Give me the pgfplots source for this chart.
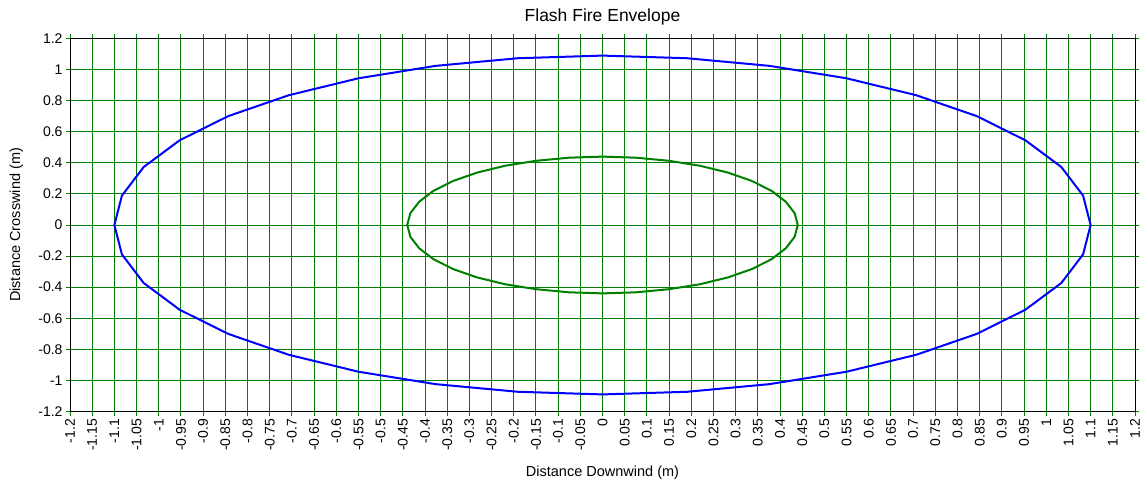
\documentclass[border=0pt]{standalone}
\usepackage{pgfplots}
\pgfplotsset{compat=1.18}
\usepackage{fontspec}
\setmainfont{Liberation Sans}
\definecolor{gridgreen}{RGB}{0,128,0}
\definecolor{lineblue}{RGB}{0,0,255}
\definecolor{ellgreen}{RGB}{0,128,0}
\begin{document}
\begin{tikzpicture}
\begin{axis}[
    name=ax,
    width=1065pt, height=373pt, scale only axis,
    xmin=-1.2, xmax=1.2, ymin=-1.2, ymax=1.2,
    xtick={-1.2,-1.15,-1.1,-1.05,-1,-0.95,-0.9,-0.85,-0.8,-0.75,-0.7,-0.65,-0.6,-0.55,-0.5,-0.45,-0.4,-0.35,-0.3,-0.25,-0.2,-0.15,-0.1,-0.05,0,0.05,0.1,0.15,0.2,0.25,0.3,0.35,0.4,0.45,0.5,0.55,0.6,0.65,0.7,0.75,0.8,0.85,0.9,0.95,1,1.05,1.1,1.15,1.2},
    xticklabels={-1.2,-1.15,-1.1,-1.05,-1,-0.95,-0.9,-0.85,-0.8,-0.75,-0.7,-0.65,-0.6,-0.55,-0.5,-0.45,-0.4,-0.35,-0.3,-0.25,-0.2,-0.15,-0.1,-0.05,0,0.05,0.1,0.15,0.2,0.25,0.3,0.35,0.4,0.45,0.5,0.55,0.6,0.65,0.7,0.75,0.8,0.85,0.9,0.95,1,1.05,1.1,1.15,1.2},
    ytick={-1.2,-1,-0.8,-0.6,-0.4,-0.2,0,0.2,0.4,0.6,0.8,1,1.2},
    yticklabels={-1.2,-1,-0.8,-0.6,-0.4,-0.2,0,0.2,0.4,0.6,0.8,1,1.2},
    tick align=outside,
    major tick length=4pt,
    tick style={gridgreen, line width=1pt},
    xmajorgrids, ymajorgrids,
    major grid style={gridgreen, line width=1pt},
    axis line style={black, line width=1pt},
    xticklabel style={rotate=90, anchor=east, font=\fontsize{14}{16}\selectfont},
    yticklabel style={font=\fontsize{14}{16}\selectfont},
    title={Flash Fire Envelope},
    title style={at={(axis description cs:0.5,1)}, anchor=base, yshift=10.5pt, font=\fontsize{17.5}{20}\selectfont},
    xlabel={Distance Downwind (m)},
    xlabel style={at={(axis description cs:0.5,0)}, anchor=base, yshift=-65pt, font=\fontsize{14.5}{17}\selectfont},
    ylabel={Distance Crosswind (m)},
    ylabel style={at={(axis description cs:-0.0469,0.5)}, anchor=base, font=\fontsize{14.5}{17}\selectfont},
    clip=false,
]
% outer envelope
\addplot[lineblue, line width=2pt] coordinates {
(1.1,0) (1.083,0.189) (1.034,0.373) (0.953,0.545) (0.843,0.701) (0.707,0.835)
(0.550,0.944) (0.376,1.024) (0.191,1.073) (0,1.09) (-0.191,1.073) (-0.376,1.024)
(-0.550,0.944) (-0.707,0.835) (-0.843,0.701) (-0.953,0.545) (-1.034,0.373) (-1.083,0.189)
(-1.1,0) (-1.083,-0.189) (-1.034,-0.373) (-0.953,-0.545) (-0.843,-0.701) (-0.707,-0.835)
(-0.550,-0.944) (-0.376,-1.024) (-0.191,-1.073) (0,-1.09) (0.191,-1.073) (0.376,-1.024)
(0.550,-0.944) (0.707,-0.835) (0.843,-0.701) (0.953,-0.545) (1.034,-0.373) (1.083,-0.189)
(1.1,0)
};
% inner envelope
\addplot[ellgreen, line width=2pt] coordinates {
(0.44,0) (0.433,0.076) (0.413,0.150) (0.381,0.220) (0.337,0.283) (0.283,0.337)
(0.220,0.381) (0.150,0.413) (0.076,0.433) (0,0.44) (-0.076,0.433) (-0.150,0.413)
(-0.220,0.381) (-0.283,0.337) (-0.337,0.283) (-0.381,0.220) (-0.413,0.150) (-0.433,0.076)
(-0.44,0) (-0.433,-0.076) (-0.413,-0.150) (-0.381,-0.220) (-0.337,-0.283) (-0.283,-0.337)
(-0.220,-0.381) (-0.150,-0.413) (-0.076,-0.433) (0,-0.44) (0.076,-0.433) (0.150,-0.413)
(0.220,-0.381) (0.283,-0.337) (0.337,-0.283) (0.381,-0.220) (0.413,-0.150) (0.433,-0.076)
(0.44,0)
};
\end{axis}
\pgfresetboundingbox
\path[use as bounding box] ([xshift=-70pt,yshift=-70.5pt]ax.south west) rectangle ([xshift=9pt,yshift=38.5pt]ax.north east);
\end{tikzpicture}
\end{document}
